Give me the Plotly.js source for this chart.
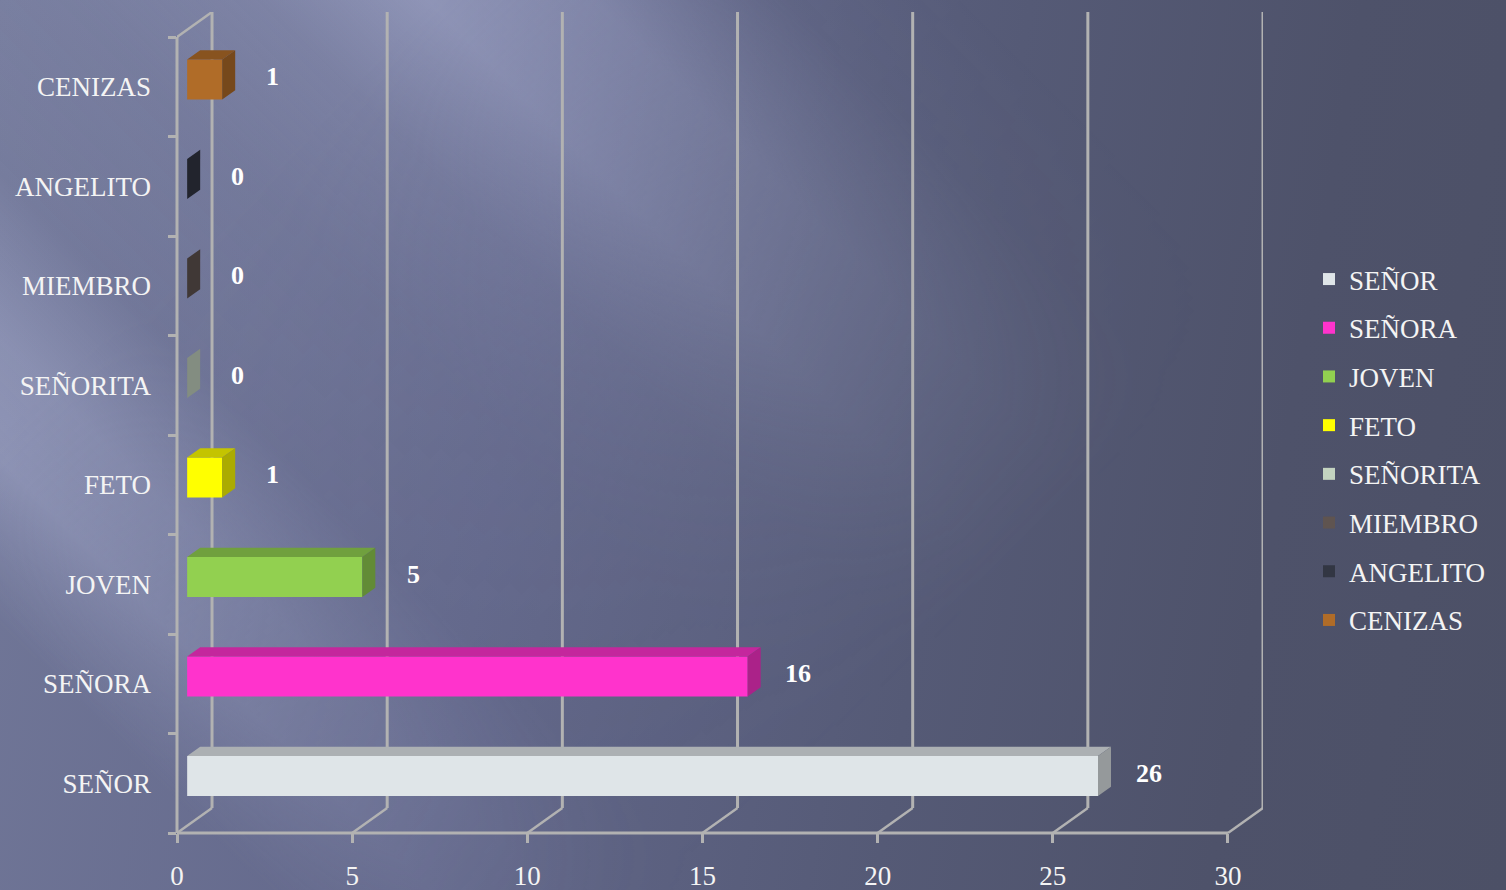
<!DOCTYPE html>
<html>
<head>
<meta charset="utf-8">
<script src="https://cdn.plot.ly/plotly-3.0.1.min.js"></script>
<style>
  html, body { margin: 0; padding: 0; }
  body {
    position: relative;
    width: 1506px; height: 890px; overflow: hidden;
    background: linear-gradient(100deg, #727899 0%, #62678a 35%, #555a76 62%, #4e526a 82%, #4c5066 100%);
  }
  body::before {
    content: ''; position: absolute; left: 0; top: 0; width: 1506px; height: 890px;
    background:
      linear-gradient(45deg,
        rgba(200,206,240,0) 11%,
        rgba(200,206,240,0.34) 18%,
        rgba(200,206,240,0.30) 23%,
        rgba(200,206,240,0.06) 30%,
        rgba(200,206,240,0.10) 40%,
        rgba(200,206,240,0.20) 48%,
        rgba(200,206,240,0.42) 55%,
        rgba(200,206,240,0.36) 62%,
        rgba(200,206,240,0.06) 70%,
        rgba(200,206,240,0) 78%);
    -webkit-mask-image: linear-gradient(135deg, #000 0%, #000 18%, rgba(0,0,0,0.5) 40%, rgba(0,0,0,0) 66%);
    mask-image: linear-gradient(135deg, #000 0%, #000 18%, rgba(0,0,0,0.5) 40%, rgba(0,0,0,0) 66%);
  }
  #chart { position: relative; width: 1506px; height: 890px; }
</style>
</head>
<body>
<div id="chart"></div>
<script>
// ---- data ----
const categories = ['SEÑOR', 'SEÑORA', 'JOVEN', 'FETO', 'SEÑORITA', 'MIEMBRO', 'ANGELITO', 'CENIZAS'];
const counts = [26, 16, 5, 1, 0, 0, 0, 1];
const colors = ['#dfe5e8', '#ff33cc', '#92d050', '#ffff00', '#c3d3c0', '#5f5450', '#323643', '#b06c28'];
const xTicks = [0, 5, 10, 15, 20, 25, 30];

// ---- geometry / style ----
const W = 1506, H = 890;
const M = { l: 177, r: 243, t: 12, b: 57 };
const plotH = H - M.t - M.b;
const catPx = 99.5;                       // pixels per category on the front plane
const xMax = 30, wallDx = 1;              // wall depth in x units
const yTop = -0.5 + plotH / catPx;
const n = categories.length;
const wallDy = yTop - (n - 0.5);          // wall depth in category units
const fx = 0.29 * wallDx, fy = 0.29 * wallDy;   // bar front-plane offset
const barW = 0.402;
const tdx = 0.371, tdy = tdx * wallDy / wallDx;  // bar depth
const gridCol = '#b2b2b2';
const FONT = 'Liberation Serif, Times New Roman, serif';

function shade(hex, f) {
  const r = parseInt(hex.slice(1, 3), 16), g = parseInt(hex.slice(3, 5), 16), b = parseInt(hex.slice(5, 7), 16);
  return 'rgb(' + Math.round(r * f) + ',' + Math.round(g * f) + ',' + Math.round(b * f) + ')';
}

const traces = categories.map((c, i) => ({
  type: 'bar', orientation: 'h', name: c, legendgroup: c,
  y: [i], x: [counts[i]], base: [fx],
  width: [barW], offset: [fy - barW / 2],
  marker: { color: colors[i], line: { width: 0 } },
  hoverinfo: 'skip'
}));

const shapes = [];
// walls and gridlines
xTicks.forEach(v => {
  shapes.push({ type: 'line', layer: 'below', xref: 'x', yref: 'y',
    x0: v + wallDx, x1: v + wallDx, y0: -0.5 + wallDy, y1: yTop,
    line: { color: gridCol, width: 3 } });
  shapes.push({ type: 'line', layer: 'below', xref: 'x', yref: 'paper',
    x0: v, x1: v + wallDx, y0: 0, y1: wallDy * catPx / plotH,
    line: { color: gridCol, width: 2.5 } });
});
shapes.push({ type: 'line', layer: 'below', xref: 'x', yref: 'paper',
  x0: 0, x1: xMax, y0: 0, y1: 0, line: { color: gridCol, width: 3 } });
shapes.push({ type: 'line', layer: 'below', xref: 'paper', yref: 'y',
  x0: 0, x1: 0, y0: -0.5, y1: n - 0.5, line: { color: gridCol, width: 3 } });
shapes.push({ type: 'line', layer: 'below', xref: 'x', yref: 'y',
  x0: 0, x1: wallDx, y0: n - 0.5, y1: yTop, line: { color: gridCol, width: 2.5 } });

// 3D faces of the bars
categories.forEach((c, i) => {
  const x0 = fx, x1 = fx + counts[i];
  const yb = i + fy - barW / 2, yt = i + fy + barW / 2;
  if (counts[i] > 0) {
    shapes.push({ type: 'path', xref: 'x', yref: 'y', layer: 'above',
      path: `M${x0},${yt} L${x1},${yt} L${x1 + tdx},${yt + tdy} L${x0 + tdx},${yt + tdy} Z`,
      fillcolor: shade(colors[i], 0.77), line: { width: 0 } });
  }
  shapes.push({ type: 'path', xref: 'x', yref: 'y', layer: 'above',
    path: `M${x1},${yb} L${x1},${yt} L${x1 + tdx},${yt + tdy} L${x1 + tdx},${yb + tdy} Z`,
    fillcolor: shade(colors[i], 0.67), line: { width: 0 } });
});

const annotations = categories.map((c, i) => ({
  xref: 'x', yref: 'y', x: counts[i] + 1.74, y: i + fy + 0.03,
  text: '<b>' + counts[i] + '</b>', showarrow: false,
  font: { family: FONT, size: 26, color: '#ffffff' }
}));

const layout = {
  width: W, height: H,
  margin: M,
  paper_bgcolor: 'rgba(0,0,0,0)', plot_bgcolor: 'rgba(0,0,0,0)',
  barmode: 'overlay',
  showlegend: true,
  legend: {
    xref: 'container', yref: 'container', x: 1309 / W, y: 1 - 449.5 / H,
    xanchor: 'left', yanchor: 'middle',
    bgcolor: 'rgba(0,0,0,0)', tracegroupgap: 10.6, traceorder: 'grouped',
    font: { family: FONT, size: 27, color: '#f4f4f4' }
  },
  xaxis: {
    range: [0, xMax + wallDx], tickmode: 'array', tickvals: xTicks,
    ticks: 'outside', ticklen: 9, tickwidth: 3, tickcolor: gridCol,
    showgrid: false, zeroline: false, showline: false,
    ticklabelstandoff: 10,
    tickfont: { family: FONT, size: 27, color: '#f4f4f4' }, fixedrange: true
  },
  yaxis: {
    range: [-0.5, yTop], tickmode: 'array',
    tickvals: categories.map((c, i) => i), ticktext: categories,
    ticks: '', showgrid: false, zeroline: false, showline: false,
    ticklabelstandoff: 25,
    minor: { tickvals: categories.map((c, i) => i - 0.5).concat([n - 0.5]),
      ticks: 'outside', ticklen: 8, tickwidth: 3, tickcolor: gridCol, showgrid: false },
    tickfont: { family: FONT, size: 27, color: '#f4f4f4' }, fixedrange: true
  },
  shapes: shapes,
  annotations: annotations
};

Plotly.newPlot('chart', traces, layout, { displayModeBar: false, staticPlot: true });
</script>
</body>
</html>
